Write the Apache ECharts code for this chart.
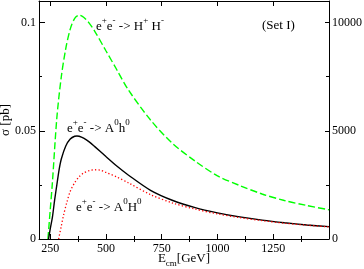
<!DOCTYPE html>
<html>
<head>
<meta charset="utf-8">
<script src="https://cdn.jsdelivr.net/npm/echarts@6/dist/echarts.min.js"></script>
<style>
html,body{margin:0;padding:0;background:#fff;}
#c{width:364px;height:269px;}
</style>
</head>
<body>
<div id="c"></div>
<script>
// H+ H- (green dashed)
var hpE = [240, 250, 260, 280, 300, 320, 340, 360, 380, 400, 425, 450, 500, 550, 600, 700, 800, 900, 1000, 1100, 1200, 1300, 1400, 1500];
var hpSigma = [0, 0.013, 0.026, 0.056, 0.075, 0.088, 0.097, 0.102, 0.1035, 0.1025, 0.0998, 0.096, 0.087, 0.078, 0.069, 0.055, 0.044, 0.036, 0.0292, 0.0247, 0.0208, 0.0178, 0.0155, 0.0135];
// A0 h0 (black solid)
var ahE = [243, 250, 260, 270, 280, 290, 300, 320, 340, 360, 370, 380, 400, 425, 450, 500, 550, 600, 700, 800, 900, 1000, 1100, 1200, 1300, 1400, 1500];
var ahSigma = [0, 0.0045, 0.010, 0.018, 0.025, 0.032, 0.037, 0.043, 0.0462, 0.0475, 0.0476, 0.0475, 0.0466, 0.0449, 0.0427, 0.0381, 0.0336, 0.0296, 0.0225, 0.0178, 0.0145, 0.0121, 0.0102, 0.0087, 0.0075, 0.0065, 0.0057];
// A0 H0 (red dotted)
var aHE = [288, 300, 310, 325, 340, 360, 380, 400, 425, 450, 475, 500, 550, 600, 700, 800, 900, 1000, 1100, 1200, 1300, 1400, 1500];
var aHSigma = [0, 0.006, 0.011, 0.017, 0.022, 0.026, 0.0288, 0.0305, 0.0316, 0.032, 0.0318, 0.0308, 0.0286, 0.026, 0.0205, 0.0166, 0.0138, 0.0116, 0.0099, 0.0085, 0.0073, 0.0064, 0.0056];
// ticks
var xLabelTicks = [250, 500, 750, 1000, 1250];
var xMinorTicks = [375, 625, 875, 1125, 1375];
var yLeftLabels = [0, 0.05, 0.1];
var yLeftMinor = [0.025, 0.075];
var yRightLabels = [0, 5000, 10000];
var yRightMinor = [2500, 7500];

function pairs(xs, ys){ return xs.map(function(x,i){ return [x, ys[i]]; }); }

var FONT = 'Liberation Serif';
var axisLineStyle = {show:true, onZero:false, lineStyle:{color:'#000', width:1}};
function fmt(v){ return String(v); }
function xAx(pos, ticks, len, labels, extra){
  var a = {type:'value', position:pos, min:200, max:1500, gridIndex:0,
    axisLine: extra && extra.noLine ? {show:false} : axisLineStyle,
    axisTick:{show:true, inside:true, length:len, customValues:ticks, lineStyle:{color:'#000'}},
    axisLabel: labels ? {show:true, customValues:labels, color:'#000', fontFamily:FONT, fontSize:12, margin:4, formatter:fmt} : {show:false},
    splitLine:{show:false}};
  if (extra && extra.name) { Object.assign(a, extra.name); }
  return a;
}
function yAx(pos, min, max, ticks, len, labels, extra){
  var a = {type:'value', position:pos, min:min, max:max, gridIndex:0,
    axisLine: extra && extra.noLine ? {show:false} : axisLineStyle,
    axisTick:{show:true, inside:true, length:len, customValues:ticks, lineStyle:{color:'#000'}},
    axisLabel: labels ? {show:true, customValues:labels, color:'#000', fontFamily:FONT, fontSize:12, margin:3, formatter:fmt} : {show:false},
    splitLine:{show:false}};
  if (extra && extra.name) { Object.assign(a, extra.name); }
  return a;
}

var chart = echarts.init(document.getElementById('c'), null, {renderer:'canvas'});
var option = {
  animation:false,
  backgroundColor:'#fff',
  textStyle:{fontFamily:FONT},
  grid:{left:39, right:35, top:1, bottom:30, containLabel:false, outerBoundsMode:'none'},
  xAxis:[
    xAx('bottom', xLabelTicks, 5, xLabelTicks, {name:{
      name:'{b|E}{sub|cm}{b|[GeV]}', nameLocation:'middle', nameGap:13, nameMoveOverlap:false,
      nameTextStyle:{fontFamily:FONT, color:'#000', rich:{
        b:{fontFamily:FONT, fontSize:13, color:'#000', lineHeight:16, verticalAlign:'top'},
        sub:{fontFamily:FONT, fontSize:9, color:'#000', lineHeight:10, verticalAlign:'bottom'}}}}}),
    xAx('bottom', xMinorTicks, 3, null, {noLine:true}),
    xAx('top', xLabelTicks, 5, null),
    xAx('top', xMinorTicks, 3, null, {noLine:true})
  ],
  yAxis:[
    yAx('left', 0, 0.11, [0.05, 0.1], 6, yLeftLabels, {name:{
      name:'σ [pb]', nameLocation:'middle', nameGap:27, nameRotate:90, nameMoveOverlap:false,
      nameTextStyle:{fontFamily:FONT, fontSize:13, color:'#000'}}}),
    yAx('right', 0, 11000, [5000, 10000], 4, yRightLabels),
    yAx('left', 0, 0.11, yLeftMinor, 3, null, {noLine:true}),
    yAx('right', 0, 11000, yRightMinor, 3, null, {noLine:true})
  ],
  series:[
    {type:'line', name:'HpHm', xAxisIndex:0, yAxisIndex:0, data:pairs(hpE, hpSigma), showSymbol:false, symbol:'none',
      smooth:0.3, lineStyle:{color:'#00ff00', width:1.4, type:[7,3]}},
    {type:'line', name:'Ah', xAxisIndex:0, yAxisIndex:0, data:pairs(ahE, ahSigma), showSymbol:false, symbol:'none',
      smooth:0.3, lineStyle:{color:'#000', width:1.4}},
    {type:'line', name:'AH', xAxisIndex:0, yAxisIndex:0, data:pairs(aHE, aHSigma), showSymbol:false, symbol:'none',
      smooth:0.3, lineStyle:{color:'#ff0000', width:1.3, type:[1.3,2.2]}}
  ],
  graphic:[]
};
var rich = {
  b:{fontFamily:FONT, fontSize:13, fill:'#000', lineHeight:17, verticalAlign:'bottom'},
  s:{fontFamily:FONT, fontSize:9, fill:'#000', lineHeight:11, verticalAlign:'top'}
};
function ann(txt, x, y){
  return {type:'text', x:x, y:y, silent:true, z:10,
    style:{text:txt, rich:rich, fontFamily:FONT, fontSize:13, fill:'#000', verticalAlign:'top', align:'left'}};
}
option.graphic = [
  ann('{b|e}{s|+}{b|e}{s|-}{b| -> H}{s|+}{b| H}{s|-}', 96, 16),
  ann('{b|e}{s|+}{b|e}{s|-}{b| -> A}{s|0}{b|h}{s|0}', 67, 118),
  ann('{b|e}{s|+}{b|e}{s|-}{b| -> A}{s|0}{b|H}{s|0}', 76, 197),
  {type:'text', x:262, y:19, silent:true, style:{text:'(Set I)', fontFamily:FONT, fontSize:13, fill:'#000'}}
];
chart.setOption(option);
</script>
</body>
</html>
